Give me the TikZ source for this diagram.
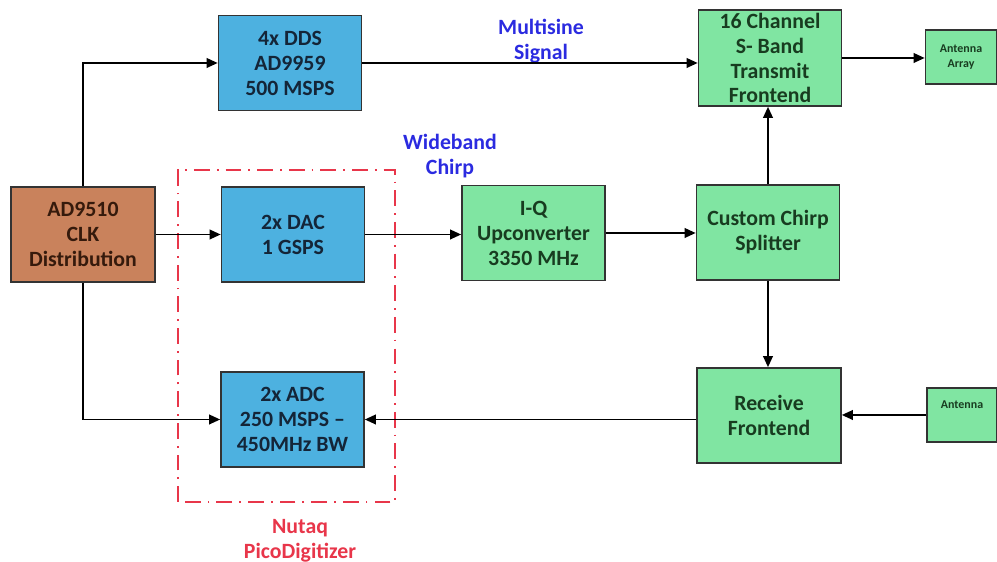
\documentclass[tikz,border=0pt]{standalone}
\usepackage{fontspec}
\setmainfont{Carlito}
\usepackage{xcolor}
\usepackage{tikz}
\usetikzlibrary{arrows.meta,positioning,calc}
\definecolor{clkbg}{HTML}{C9825C}
\definecolor{digbg}{HTML}{4DB1E0}
\definecolor{rfbg}{HTML}{80E5A2}
\definecolor{clktxt}{HTML}{351A0C}
\definecolor{digtxt}{HTML}{142538}
\definecolor{rftxt}{HTML}{183C20}
\definecolor{cblue}{HTML}{2B2BE0}
\definecolor{cred}{HTML}{E8364A}
\tikzset{
  blk/.style   = {draw=black!80, line width=0.9pt, align=center, inner sep=0pt,
                  font=\fontsize{12.4}{14.2}\selectfont\bfseries,
                  minimum width=2.86cm, minimum height=1.9cm},
  clkbox/.style = {blk, fill=clkbg, text=clktxt},
  digbox/.style = {blk, fill=digbg, text=digtxt},
  rfbox/.style  = {blk, fill=rfbg, text=rftxt},
  antbox/.style = {rfbox, font=\fontsize{6.8}{8.2}\selectfont\bfseries,
                  minimum width=1.42cm, minimum height=1.08cm},
  ar/.style    = {-{Triangle[length=2.2mm,width=1.9mm]}, line width=1.1pt},
  lbl/.style   = {font=\fontsize{12.4}{14.2}\selectfont\bfseries, align=center},
}
\begin{document}
\begin{tikzpicture}
  \useasboundingbox (0,0) rectangle (19.94,11.24);
  % picodigitizer frame
  \draw[cred, line width=1.4pt, dash pattern=on 9pt off 4pt on 1pt off 4pt]
    (3.56,1.20) rectangle (7.90,7.84);
  % blocks
  \node[clkbox, minimum width=2.88cm] (clk) at (1.66,6.55) {AD9510\\CLK\\Distribution};
  \node[digbox] (dds) at (5.80,9.98) {4x DDS\\AD9959\\500 MSPS};
  \node[digbox] (dac) at (5.86,6.55) {2x DAC\\1 GSPS};
  \node[digbox] (adc) at (5.85,2.85) {2x ADC\\250 MSPS --\\450MHz BW};
  \node[rfbox] (iq) at (10.67,6.58) {I-Q\\Upconverter\\3350 MHz};
  \node[rfbox] (split) at (15.36,6.59) {Custom Chirp\\Splitter};
  \node[rfbox, minimum height=1.92cm] (tx) at (15.40,10.08) {16 Channel\\S- Band\\Transmit\\Frontend};
  \node[rfbox, minimum width=2.88cm] (rx) at (15.38,2.93) {Receive\\Frontend};
  \node[antbox] (antarr) at (19.22,10.10) {Antenna\\Array};
  \node[antbox, minimum width=1.40cm] (ant) at (19.24,2.94) {Antenna\\[4pt]};
  % labels
  \node[lbl, text=cblue] (multisine) at (10.82,10.42) {Multisine\\Signal};
  \node[lbl, text=cblue] (wideband) at (9.00,8.12) {Wideband\\Chirp};
  \node[lbl, text=cred] (nutaq) at (6.00,0.42) {Nutaq\\PicoDigitizer};
  % connections
  \draw[ar] (clk.north) |- (dds.west);
  \draw[ar] (clk.east) -- (clk.east -| dac.west);
  \draw[ar] (clk.south) |- (adc.west);
  \draw[ar] (dds.east) -- (dds.east -| tx.west);
  \draw[ar] (dac.east) -- (dac.east -| iq.west);
  \draw[ar] (iq.east) -- (iq.east -| split.west);
  \draw[ar] (split.north) -- (split.north |- tx.south);
  \draw[ar] (split.south) -- (split.south |- rx.north);
  \draw[ar] (rx.west |- adc.east) -- (adc.east);
  \draw[ar] (tx.east) -- (tx.east -| antarr.west);
  \draw[ar] (ant.west) -- (ant.west -| rx.east);
\end{tikzpicture}
\end{document}
